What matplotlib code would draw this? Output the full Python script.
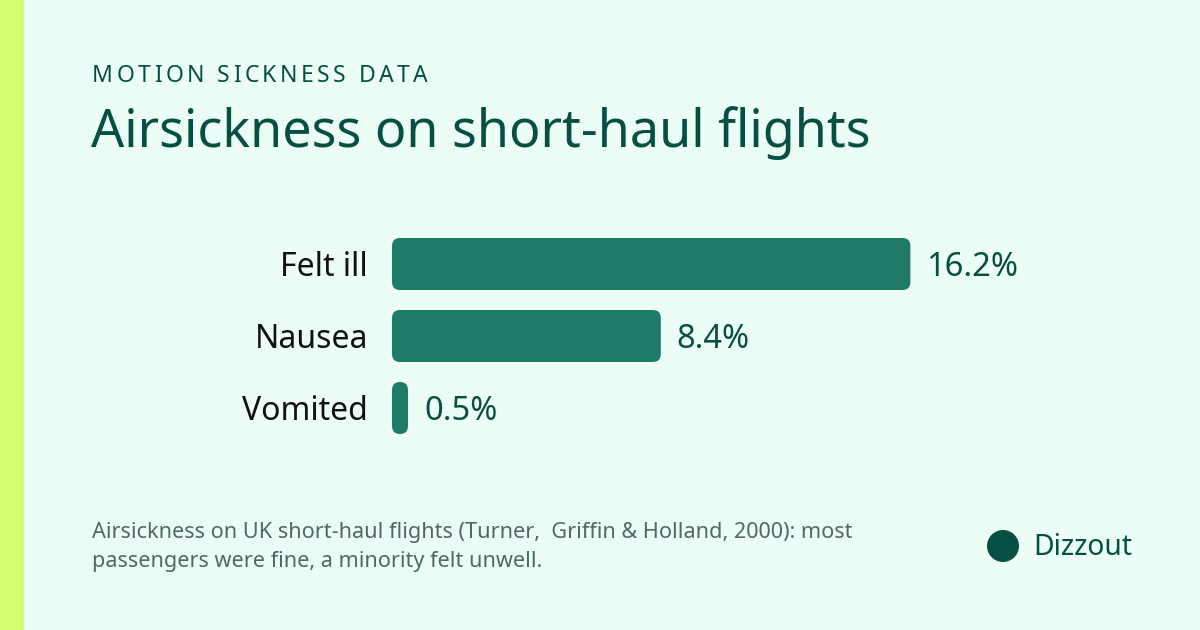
import matplotlib
matplotlib.use("Agg")
import matplotlib.pyplot as plt
from matplotlib.patches import FancyBboxPatch, Rectangle, Circle
from matplotlib.font_manager import FontProperties

categories = ["Felt ill", "Nausea", "Vomited"]
values = [16.2, 8.4, 0.5]
value_labels = ["16.2%", "8.4%", "0.5%"]

kicker = "MOTION SICKNESS DATA"
title = "Airsickness on short-haul flights"
footnote = ["Airsickness on UK short-haul flights (Turner,  Griffin & Holland, 2000): most",
            "passengers were fine, a minority felt unwell."]
brand = "Dizzout"

W, H = 1200, 630
bg = "#ebfdf5"
strip = "#d6ff70"
dark = "#064f42"
bar_col = "#1f7a68"
grey = "#4d6b64"

plt.rcParams["font.family"] = ["Noto Sans", "DejaVu Sans"]

fig = plt.figure(figsize=(12, 6.3), dpi=100)
fig.patch.set_facecolor(bg)


def fx(px):
    return px / W


def fy(py):
    return 1 - py / H


# left accent strip
fig.patches.append(Rectangle((0, 0), fx(24), 1, transform=fig.transFigure,
                             facecolor=strip, edgecolor="none"))

# kicker with letter spacing, drawn char by char
renderer = fig.canvas.get_renderer()
kp = FontProperties(family="Noto Sans", size=16.5)
widths = [renderer.get_text_width_height_descent(c, kp, ismath=False)[0] for c in kicker]
natural = sum(widths)
track = (336 - natural) / (len(kicker) - 1)
x = 92
for c, w in zip(kicker, widths):
    fig.text(fx(x), fy(82), c, fontproperties=kp, color=dark, va="baseline", ha="left")
    x += w + track

fig.text(fx(91), fy(147), title, fontsize=37.5, color=dark, va="baseline", ha="left")

# bar axes: x 392..1100 px, rows spaced 72 px
px_per_unit = 32.0
ax_left, ax_right = 392, 1100
ax_top, ax_bot = 228, 444
ax = fig.add_axes([fx(ax_left), fy(ax_bot), fx(ax_right - ax_left), (ax_bot - ax_top) / H])
ax.set_facecolor("none")
ax.set_xlim(0, (ax_right - ax_left) / px_per_unit)
ax.set_ylim(2.5, -0.5)
ax.axis("off")

bars = ax.barh(range(len(categories)), values, height=52 / 72, color="none")
aspect = px_per_unit / 72.0
for i, b in enumerate(bars):
    b.set_visible(False)
    r = min(8 / px_per_unit, b.get_width() / 2)
    p = FancyBboxPatch((b.get_x(), b.get_y()), b.get_width(), b.get_height(),
                       boxstyle=f"round,pad=0,rounding_size={r}",
                       mutation_aspect=aspect, facecolor=bar_col, edgecolor="none")
    ax.add_patch(p)
    ax.text(-24 / px_per_unit, i + 0.045, categories[i], ha="right", va="center",
            fontsize=23, color="#111111")
    ax.text(b.get_width() + 16 / px_per_unit, i + 0.045, value_labels[i], ha="left",
            va="center", fontsize=23.5, color=dark)

fig.text(fx(92), fy(538), footnote[0], fontsize=15.6, color=grey, va="baseline", ha="left")
fig.text(fx(92), fy(567), footnote[1], fontsize=15.6, color=grey, va="baseline", ha="left")

fig.patches.append(Circle((10.03, (H - 546) / 100), 0.16, transform=fig.dpi_scale_trans,
                          facecolor=dark, edgecolor="none"))
fig.text(fx(1033), fy(555), brand, fontsize=20.3, color=dark, va="baseline", ha="left")

fig.savefig("out.png", dpi=100, facecolor=bg)
